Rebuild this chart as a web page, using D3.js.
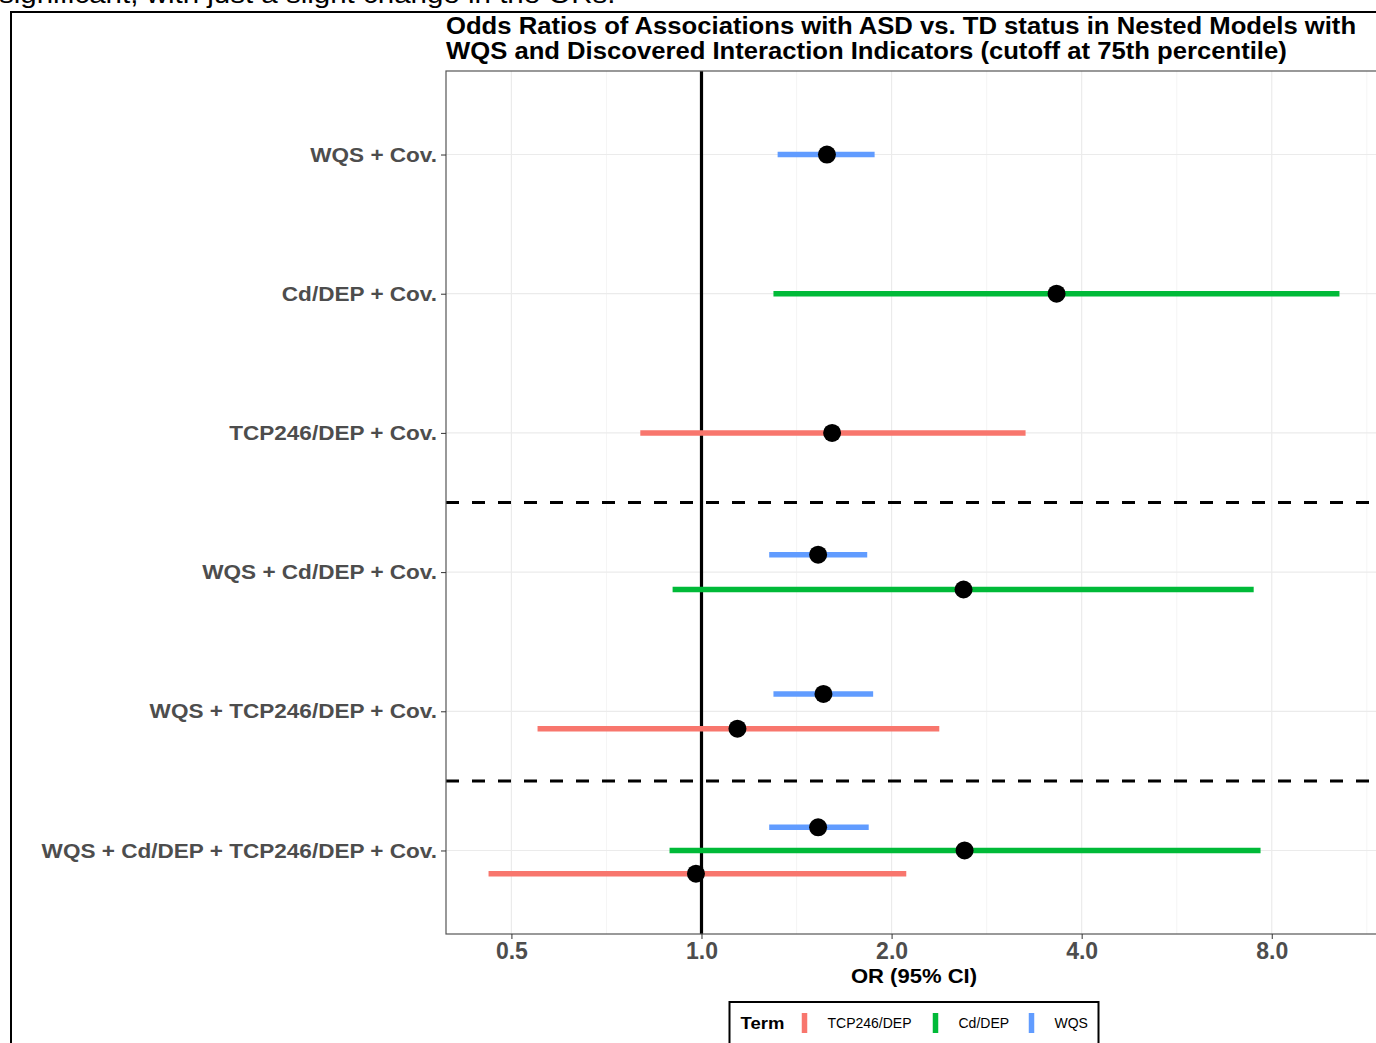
<!DOCTYPE html>
<html>
<head>
<meta charset="utf-8">
<script src="https://cdn.jsdelivr.net/npm/d3@7"></script>
<style>
  body { margin: 0; background: white; overflow: hidden; }
  text { font-family: "Liberation Sans", Arial, sans-serif; }
  .gridline { stroke: #ebebeb; stroke-width: 1.2; }
  .gridminor { stroke: #f2f2f2; stroke-width: 0.8; }
</style>
</head>
<body>
<div id="chart"></div>
<script>
// models shown on the y axis, top to bottom
var models = ["WQS + Cov.", "Cd/DEP + Cov.", "TCP246/DEP + Cov.",
  "WQS + Cd/DEP + Cov.", "WQS + TCP246/DEP + Cov.", "WQS + Cd/DEP + TCP246/DEP + Cov."];
// legend order (factor order)
var terms = ["TCP246/DEP", "Cd/DEP", "WQS"];
var termColors = ["#F8766D", "#00BA38", "#619CFF"];

// one entry per estimate
var estModel = [0, 1, 2, 3, 3, 4, 4, 5, 5, 5];
var estTerm  = ["WQS", "Cd/DEP", "TCP246/DEP", "WQS", "Cd/DEP", "WQS", "TCP246/DEP", "WQS", "Cd/DEP", "TCP246/DEP"];
var estOR    = [1.58, 3.65, 1.61, 1.53, 2.60, 1.56, 1.14, 1.53, 2.61, 0.98];
var estLow   = [1.32, 1.30, 0.80, 1.28, 0.90, 1.30, 0.55, 1.28, 0.89, 0.46];
var estHigh  = [1.88, 10.24, 3.26, 1.83, 7.49, 1.87, 2.38, 1.84, 7.68, 2.11];

var xTicks = [0.5, 1, 2, 4, 8];
var separators = [3.5, 5.5]; // between model groups (1-based positions)

var W = 1376, H = 1043;
var panel = { left: 446, right: 1382, top: 71, bottom: 934 };

var svg = d3.select("#chart").append("svg")
  .attr("width", W).attr("height", H);

// the screenshot's text comes out a little wider than Liberation Sans
function stretch(sel, f) {
  sel.each(function () {
    var w = this.getComputedTextLength();
    d3.select(this).attr("textLength", w * f).attr("lengthAdjust", "spacingAndGlyphs");
  });
}

// document text cut off at the top
svg.append("text")
  .attr("x", -1).attr("y", 3)
  .style("font-size", "25px").style("fill", "#000")
  .text("significant, with just a slight change in the ORs.")
  .call(stretch, 1.18);

// document frame
svg.append("path")
  .attr("d", "M11," + H + "V12H" + W)
  .attr("fill", "none").attr("stroke", "#000").attr("stroke-width", 2);

var rows = estModel.map(function (m, i) {
  return { model: models[m], term: estTerm[i], or: estOR[i], lo: estLow[i], hi: estHigh[i] };
});

// dodge within model
models.forEach(function (m) {
  var g = rows.filter(function (d) { return d.model == m; });
  g.sort(function (a, b) { return terms.indexOf(a.term) - terms.indexOf(b.term); });
  g.forEach(function (d, i) {
    d.dodge = ((g.length - 1) / 2 - i) * (0.5 / g.length);
  });
});

var lmin = d3.min(rows, function (d) { return Math.log2(d.lo); });
var lmax = d3.max(rows, function (d) { return Math.log2(d.hi); });
var pad = (lmax - lmin) * 0.05;

var x = d3.scaleLog().base(2)
  .domain([Math.pow(2, lmin - pad), Math.pow(2, lmax + pad)])
  .range([panel.left, panel.right]);

var y = d3.scalePoint()
  .domain(models)
  .range([panel.top, panel.bottom])
  .padding(0.6);
var step = y.step();

function yPos(d) { return y(d.model) + d.dodge * step; }

// grid
var minor = [];
for (var i = 0; i < xTicks.length + 1; i++) {
  var v = Math.pow(2, -1.5 + i);
  if (v > x.domain()[0] && v < x.domain()[1]) minor.push(v);
}
svg.append("g").selectAll("line").data(minor).enter().append("line")
  .attr("class", "gridminor")
  .attr("x1", function (d) { return x(d); }).attr("x2", function (d) { return x(d); })
  .attr("y1", panel.top).attr("y2", panel.bottom);

svg.append("g").selectAll("line").data(xTicks).enter().append("line")
  .attr("class", "gridline")
  .attr("x1", function (d) { return x(d); }).attr("x2", function (d) { return x(d); })
  .attr("y1", panel.top).attr("y2", panel.bottom);

svg.append("g").selectAll("line").data(models).enter().append("line")
  .attr("class", "gridline")
  .attr("x1", panel.left).attr("x2", panel.right)
  .attr("y1", function (d) { return y(d); }).attr("y2", function (d) { return y(d); });

// reference line at OR = 1
svg.append("line")
  .attr("x1", x(1)).attr("x2", x(1))
  .attr("y1", panel.top).attr("y2", panel.bottom)
  .attr("stroke", "#000").attr("stroke-width", 3.2);

// group separators
svg.append("g").selectAll("line").data(separators).enter().append("line")
  .attr("x1", panel.left).attr("x2", panel.right)
  .attr("y1", function (d) { return panel.top + (d - 1 + 0.6) * step; })
  .attr("y2", function (d) { return panel.top + (d - 1 + 0.6) * step; })
  .attr("stroke", "#000").attr("stroke-width", 3)
  .attr("stroke-dasharray", "13,13");

// confidence intervals
svg.append("g").selectAll("line").data(rows).enter().append("line")
  .attr("x1", function (d) { return x(d.lo); })
  .attr("x2", function (d) { return x(d.hi); })
  .attr("y1", yPos).attr("y2", yPos)
  .attr("stroke", function (d) { return termColors[terms.indexOf(d.term)]; })
  .attr("stroke-width", 5.5);

// point estimates
svg.append("g").selectAll("circle").data(rows).enter().append("circle")
  .attr("cx", function (d) { return x(d.or); })
  .attr("cy", yPos)
  .attr("r", 9)
  .attr("fill", "#000");

// panel border
svg.append("rect")
  .attr("x", panel.left).attr("y", panel.top)
  .attr("width", panel.right - panel.left).attr("height", panel.bottom - panel.top)
  .attr("fill", "none").attr("stroke", "#555").attr("stroke-width", 1.2);

// y axis
var yAxis = svg.append("g")
  .attr("transform", "translate(" + panel.left + ",0)")
  .call(d3.axisLeft(y).tickSize(5).tickPadding(4));
yAxis.select(".domain").remove();
yAxis.selectAll("line").attr("stroke", "#333");
yAxis.selectAll("text")
  .style("font-size", "20.5px").style("font-weight", "bold").style("fill", "#4d4d4d")
  .call(stretch, 1.1);

// x axis
var xAxis = svg.append("g")
  .attr("transform", "translate(0," + panel.bottom + ")")
  .call(d3.axisBottom(x).tickValues(xTicks).tickFormat(d3.format(".1f")).tickSize(5).tickPadding(4));
xAxis.select(".domain").remove();
xAxis.selectAll("line").attr("stroke", "#333");
xAxis.selectAll("text")
  .style("font-size", "23px").style("font-weight", "bold").style("fill", "#4d4d4d");

var cx = (panel.left + panel.right) / 2;
svg.append("text")
  .attr("x", cx).attr("y", 983)
  .attr("text-anchor", "middle")
  .style("font-size", "19.5px").style("font-weight", "bold")
  .text("OR (95% CI)")
  .call(stretch, 1.13);

// title
var title = ["Odds Ratios of Associations with ASD vs. TD status in Nested Models with",
  "WQS and Discovered Interaction Indicators (cutoff at 75th percentile)"];
svg.append("g").selectAll("text").data(title).enter().append("text")
  .attr("x", panel.left).attr("y", function (d, i) { return 34 + i * 25; })
  .style("font-size", "23px").style("font-weight", "bold")
  .text(function (d) { return d; })
  .call(stretch, 1.115);

// legend
var lg = svg.append("g").attr("transform", "translate(" + (cx - 184.5) + ",1002)");
lg.append("rect").attr("width", 369).attr("height", 60)
  .attr("fill", "white").attr("stroke", "#000").attr("stroke-width", 2);
lg.append("text").attr("x", 11).attr("y", 27)
  .style("font-size", "16.5px").style("font-weight", "bold").text("Term")
  .call(stretch, 1.12);
var keyX = [75, 206, 302];
terms.forEach(function (t, i) {
  lg.append("line")
    .attr("x1", keyX[i]).attr("x2", keyX[i])
    .attr("y1", 11).attr("y2", 31)
    .attr("stroke", termColors[i]).attr("stroke-width", 5.5);
  lg.append("text").attr("x", keyX[i] + 23).attr("y", 26)
    .style("font-size", "14px").text(t);
});
</script>
</body>
</html>
